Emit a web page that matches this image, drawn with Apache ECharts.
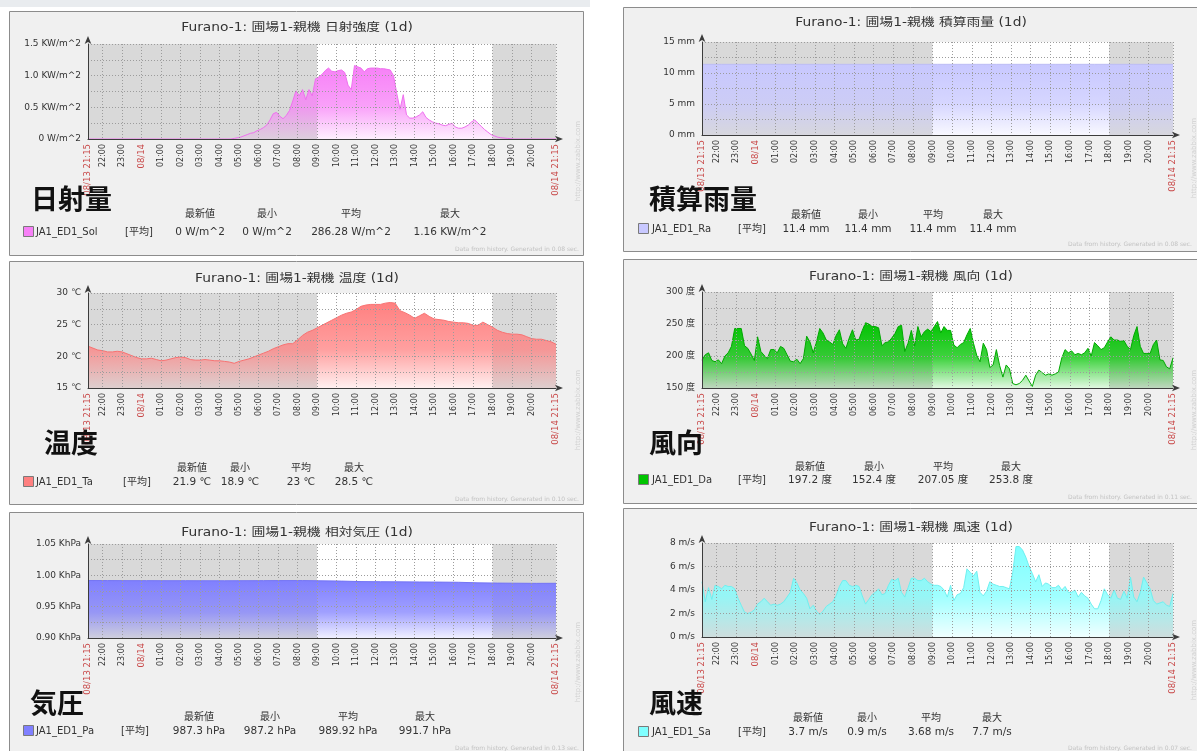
<!DOCTYPE html>
<html>
<head>
<meta charset="utf-8">
<script src="https://cdn.jsdelivr.net/npm/echarts@6/dist/echarts.min.js"></script>
<style>
  html, body { margin: 0; padding: 0; background: #ffffff; }
  #chart { width: 1197px; height: 751px; }
</style>
</head>
<body>
<div id="chart"></div>
<script>
// ---- time axis (hours counted from 08/13 00:00) ----
const T0 = 21.25;               // 08/13 21:15
const T1 = 45.25;               // 08/14 21:15
const hourTicks = [21.25, 22, 23, 24, 25, 26, 27, 28, 29, 30, 31, 32, 33, 34, 35, 36, 37, 38, 39, 40, 41, 42, 43, 44, 45.25];
const hourLabels = ['08/13 21:15', '22:00', '23:00', '08/14', '01:00', '02:00', '03:00', '04:00', '05:00', '06:00', '07:00', '08:00',
  '09:00', '10:00', '11:00', '12:00', '13:00', '14:00', '15:00', '16:00', '17:00', '18:00', '19:00', '20:00', '08/14 21:15'];
const dateLabelIdx = [0, 3, 24];
// [start, end, isWorkPeriod]
const periods = [[21.25, 33, 0], [33, 42, 1], [42, 45.25, 0]];

const statHeaders = ['最新値', '最小', '平均', '最大'];

// ---- 日射強度 (KW/m^2), every 10 min from 21:15 ----
const solar = [
  0,0,0,0,0,0,0,0,0,0, 0,0,0,0,0,0,0,0,0,0, 0,0,0,0,0,0,0,0,0,0, 0,0,0,0,0,0,0,0,0,0, 0,0,0,0,0,
  0.01,0.02,0.03,0.05,0.07,0.09,0.10,0.13,0.15,0.18,0.22,
  0.30,0.40,0.42,0.36,0.32,0.37,0.45,0.60,0.76,0.68,0.78,0.62,0.78,0.68,0.95,
  0.98,1.02,1.08,1.12,1.07,1.06,1.08,1.09,1.05,0.85,0.78,1.16,1.14,1.12,1.06,1.11,1.12,1.12,1.12,1.11,1.11,1.10,1.09,1.00,
  0.72,0.47,0.70,0.38,0.33,0.33,0.35,0.38,0.43,0.34,0.30,0.27,0.25,0.24,0.22,0.21,0.23,0.25,0.19,0.17,0.17,0.19,0.22,0.27,
  0.30,0.25,0.20,0.15,0.11,0.07,0.05,0.03,0.02,0.015,0.01,0.005,
  0,0,0,0,0,0,0,0,0,0,0,0,0,0
];
const solarStats = ['0 W/m^2', '0 W/m^2', '286.28 W/m^2', '1.16 KW/m^2'];

// ---- 温度 (℃), every 15 min from 21:15 ----
const temperature = [
  21.6,21.3,21.0,20.9,20.7,20.7,20.8,20.7,20.4,20.1,19.8,19.6,19.6,19.7,19.5,19.3,19.4,19.6,19.8,19.9,
  19.8,19.5,19.4,19.4,19.5,19.4,19.3,19.3,19.2,19.1,18.9,19.2,19.4,19.6,19.9,20.2,20.5,20.8,21.2,21.5,
  21.8,22.0,22.0,22.6,23.3,23.8,24.1,24.5,24.9,25.3,25.7,26.1,26.5,26.8,27.0,27.4,27.9,28.1,28.2,28.2,
  28.2,28.4,28.5,28.4,27.2,26.9,26.5,26.0,26.4,26.8,26.3,25.9,25.8,25.7,25.5,25.4,25.3,25.3,25.2,24.9,
  24.9,25.4,25.0,24.6,24.1,23.8,23.6,23.5,23.5,23.4,23.1,22.8,22.7,22.7,22.5,22.3,21.9
];
const temperatureStats = ['21.9 ℃', '18.9 ℃', '23 ℃', '28.5 ℃'];

// ---- 相対気圧 (hPa), hourly from 21:15 ----
const pressure = [
  991.7,991.6,991.5,991.5,991.4,991.4,991.3,991.3,991.4,991.5,991.6,991.6,
  991.2,990.8,990.0,989.8,989.6,989.4,989.2,988.9,988.0,987.6,987.4,987.2,987.3
];
const pressureStats = ['987.3 hPa', '987.2 hPa', '989.92 hPa', '991.7 hPa'];

// ---- 積算雨量 (mm), hourly from 21:15 ----
const rain = [
  11.4,11.4,11.4,11.4,11.4,11.4,11.4,11.4,11.4,11.4,11.4,11.4,11.4,
  11.4,11.4,11.4,11.4,11.4,11.4,11.4,11.4,11.4,11.4,11.4,11.4
];
const rainStats = ['11.4 mm', '11.4 mm', '11.4 mm', '11.4 mm'];

// ---- 風向 (度), every 10 min from 21:15 ----
const windDir = [
  193.5,202,205,193,191,194,188,200,205,215, 243,243,243,216,212,203,193,230,207,201,
  196,210,210,205,215,212,202,192,191,195, 188,196,231,222,205,222,243,236,225,222,
  218,232,241,219,212,228,241,225,226,240, 252,250,246,246,244,216,221,222,228,235,
  246,248,207,220,240,216,246,230,238,242, 238,246,253.8,236,246,240,240,217,213,218,
  221,233,243,220,201,191,220,210,182,186, 210,185,167,186,180,157,155,157,162,170,
  161,152.4,170,178,174,170,172,170,172,175, 197,210,205,208,202,204,202,205,212,200,
  221,216,210,213,222,230,225,225,223,224, 215,210,232,246,215,204,204,204,218,225,
  194,193,183,180,197.2
];
const windDirStats = ['197.2 度', '152.4 度', '207.05 度', '253.8 度'];

// ---- 風速 (m/s), every 10 min from 21:15 ----
const windSpeed = [
  4.7,3.0,4.2,3.2,4.4,4.3,4.1,4.4,4.3,4.3, 4.1,3.3,2.7,2.1,2.0,2.1,2.3,2.8,3.0,3.3,
  3.0,2.7,2.8,2.7,2.8,3.0,3.4,3.8,5.0,4.6, 4.0,3.7,3.3,2.4,2.7,2.2,1.9,2.2,2.6,2.8,
  3.0,3.5,4.3,4.8,4.8,4.4,4.3,4.4,4.3,3.5, 2.8,3.2,3.6,3.8,4.1,3.6,3.7,4.4,4.9,4.8,
  5.0,3.8,3.4,4.2,5.0,5.0,4.8,4.8,5.0,4.7, 4.5,4.4,4.4,4.3,4.0,3.4,4.4,3.1,3.6,3.7,
  4.2,5.8,5.5,5.2,5.6,3.8,3.5,3.9,4.7,4.5, 4.4,4.3,4.3,4.2,4.1,5.5,7.7,7.7,7.4,6.8,
  6.0,5.4,4.7,5.3,4.3,4.6,4.5,4.2,4.2,4.4, 4.0,4.3,3.8,3.8,4.0,3.4,3.8,3.5,3.3,2.8,
  2.4,2.4,3.1,4.1,3.6,3.3,4.0,3.3,3.2,3.9, 3.3,5.1,3.4,3.0,3.8,5.1,4.6,4.1,3.1,2.8,
  2.9,3.0,2.7,2.6,3.7
];
const windSpeedStats = ['3.7 m/s', '0.9 m/s', '3.68 m/s', '7.7 m/s'];

// ---- fonts & colours ----
const FONT = "'DejaVu Sans', 'Noto Sans CJK JP', sans-serif";
const CJK = "'Noto Sans CJK JP', sans-serif";
const TEXT = '#333333';
const OFF_BG = '#d9d9d9';
const GRID_LINE = { color: '#9c9c9c', type: [1, 2], width: 1 };

const panels = [
  { item: 'JA1_ED1_Sol', metric: '日射強度', big: '日射量', color: [247, 128, 247], line: '#ee70ee',
    values: solar, stepMin: 10, yMin: 0, yMax: 1.5, yStep: 0.25, yLabels: [0, 0.5, 1, 1.5],
    yFmt: v => v === 0 ? '0 W/m^2' : v.toFixed(1) + ' KW/m^2', stats: solarStats, gen: '0.08',
    box: [9, 11, 574, 244], grid: [88, 44, 468, 95], titleY: 28, bigXY: [31, 199],
    headY: 214, rowY: 232, swatchX: 23, nameX: 36, tagX: 125, cols: [200, 267, 351, 450],
    footXY: [579, 249], urlXY: [578, 161] },
  { item: 'JA1_ED1_Ta', metric: '温度', big: '温度', color: [255, 128, 128], line: '#f87272',
    values: temperature, stepMin: 15, yMin: 15, yMax: 30, yStep: 2.5, yLabels: [15, 20, 25, 30],
    yFmt: v => v + ' ℃', stats: temperatureStats, gen: '0.10',
    box: [9, 261, 574, 243], grid: [88, 293, 468, 95], titleY: 279, bigXY: [44, 443],
    headY: 468, rowY: 482, swatchX: 23, nameX: 36, tagX: 123, cols: [192, 240, 301, 354],
    footXY: [579, 499], urlXY: [578, 410] },
  { item: 'JA1_ED1_Pa', metric: '相対気圧', big: '気圧', color: [128, 128, 255], line: '#7474f4',
    values: pressure, stepMin: 60, yMin: 900, yMax: 1050, yStep: 25, yLabels: [900, 950, 1000, 1050],
    yFmt: v => (v / 1000).toFixed(2) + ' KhPa', stats: pressureStats, gen: '0.13',
    box: [9, 512, 574, 245], grid: [88, 544, 468, 94], titleY: 533, bigXY: [30, 703],
    headY: 717, rowY: 731, swatchX: 23, nameX: 36, tagX: 121, cols: [199, 270, 348, 425],
    footXY: [579, 748], urlXY: [578, 662] },
  { item: 'JA1_ED1_Ra', metric: '積算雨量', big: '積算雨量', color: [200, 200, 255], line: '#bcbcf4',
    values: rain, stepMin: 60, yMin: 0, yMax: 15, yStep: 2.5, yLabels: [0, 5, 10, 15],
    yFmt: v => v + ' mm', stats: rainStats, gen: '0.08',
    box: [623, 7, 580, 244], grid: [702, 42, 471, 93], titleY: 23, bigXY: [649, 199],
    headY: 215, rowY: 229, swatchX: 638, nameX: 652, tagX: 738, cols: [806, 868, 933, 993],
    footXY: [1192, 244], urlXY: [1194, 158] },
  { item: 'JA1_ED1_Da', metric: '風向', big: '風向', color: [0, 196, 0], line: '#00a800',
    values: windDir, stepMin: 10, yMin: 150, yMax: 300, yStep: 25, yLabels: [150, 200, 250, 300],
    yFmt: v => v + ' 度', stats: windDirStats, gen: '0.11',
    box: [623, 259, 580, 244], grid: [702, 292, 471, 96], titleY: 277, bigXY: [649, 443],
    headY: 467, rowY: 480, swatchX: 638, nameX: 652, tagX: 738, cols: [810, 874, 943, 1011],
    footXY: [1192, 497], urlXY: [1194, 410] },
  { item: 'JA1_ED1_Sa', metric: '風速', big: '風速', color: [128, 255, 255], line: '#6ef0f0',
    values: windSpeed, stepMin: 10, yMin: 0, yMax: 8, yStep: 2, yLabels: [0, 2, 4, 6, 8],
    yFmt: v => v + ' m/s', stats: windSpeedStats, gen: '0.07',
    box: [623, 508, 580, 250], grid: [702, 543, 471, 94], titleY: 528, bigXY: [649, 703],
    headY: 718, rowY: 732, swatchX: 638, nameX: 652, tagX: 738, cols: [808, 867, 931, 992],
    footXY: [1192, 748], urlXY: [1194, 660] }
];

function rgba(c, a) { return 'rgba(' + c[0] + ',' + c[1] + ',' + c[2] + ',' + a + ')'; }

function xLabel(v) {
  const i = hourTicks.findIndex(t => Math.abs(t - v) < 1e-6);
  if (i < 0) return '';
  return (dateLabelIdx.indexOf(i) >= 0 ? '{d|' : '{h|') + hourLabels[i] + '}';
}

const grid = [], xAxis = [], yAxis = [], series = [], graphic = [];

// light strip above the left column
graphic.push({ type: 'rect', z: -2, shape: { x: 0, y: 0, width: 590, height: 7 }, style: { fill: '#e9ecef' } });

panels.forEach((p, k) => {
  grid.push({ left: p.grid[0], top: p.grid[1], width: p.grid[2], height: p.grid[3], containLabel: false, outerBoundsMode: 'none' });

  xAxis.push({
    gridIndex: k, type: 'value', min: T0, max: T1, z: 5,
    axisLine: { show: true, onZero: false, lineStyle: { color: '#3c3c3c', width: 1 },
      symbol: ['none', 'arrow'], symbolSize: [5, 8], symbolOffset: [0, 7] },
    axisTick: { show: false, customValues: hourTicks },
    axisLabel: { customValues: hourTicks, rotate: 90, margin: 5, formatter: xLabel, fontFamily: FONT,
      rich: { h: { fontSize: 8, color: TEXT, fontFamily: FONT }, d: { fontSize: 8.5, color: '#c84848', fontFamily: FONT } } },
    splitLine: { show: true, lineStyle: GRID_LINE }
  });

  yAxis.push({
    gridIndex: k, type: 'value', min: p.yMin, max: p.yMax, interval: p.yStep, z: 5,
    axisLine: { show: true, onZero: false, lineStyle: { color: '#3c3c3c', width: 1 },
      symbol: ['none', 'arrow'], symbolSize: [5, 8], symbolOffset: [0, 8] },
    axisTick: { show: false },
    axisLabel: { customValues: p.yLabels, formatter: p.yFmt, fontFamily: FONT, fontSize: 9, color: TEXT, margin: 7 },
    splitLine: { show: true, lineStyle: GRID_LINE }
  });

  // work / non-work background bands
  series.push({
    type: 'custom', xAxisIndex: k, yAxisIndex: k, z: 1, silent: true, animation: false,
    data: periods, encode: { x: [0, 1] },
    renderItem: (params, api) => {
      const cs = params.coordSys;
      const x0 = api.coord([api.value(0), p.yMin])[0];
      const x1 = api.coord([api.value(1), p.yMin])[0];
      return { type: 'rect', shape: { x: x0, y: cs.y, width: x1 - x0, height: cs.height },
        style: { fill: api.value(2) ? '#ffffff' : OFF_BG } };
    }
  });

  series.push({
    type: 'line', name: p.item, xAxisIndex: k, yAxisIndex: k, z: 2,
    data: p.values.map((v, i) => [T0 + i * p.stepMin / 60, v]),
    showSymbol: false, symbol: 'none', animation: false,
    lineStyle: { color: p.line, width: 1 },
    areaStyle: { origin: 'start', opacity: 1,
      color: new echarts.graphic.LinearGradient(0, 0, 0, 1, [
        { offset: 0, color: rgba(p.color, 1) },
        { offset: 0.55, color: rgba(p.color, 0.75) },
        { offset: 1, color: rgba(p.color, 0.12) }
      ]) }
  });

  const [bx, by, bw, bh] = p.box;
  graphic.push({ type: 'rect', z: -1, shape: { x: bx + 0.5, y: by + 0.5, width: bw, height: bh },
    style: { fill: '#f0f0f0', stroke: '#8c8c8c', lineWidth: 1 } });

  // chart title
  graphic.push({ type: 'text', z: 10, x: bx + 288, y: p.titleY, scaleX: 1.2,
    style: { text: 'Furano-1: 圃場1-親機 ' + p.metric + ' (1d)', fontFamily: FONT, fontSize: 11.5,
      fill: TEXT, align: 'center', verticalAlign: 'middle' } });

  // large caption
  graphic.push({ type: 'text', z: 12, x: p.bigXY[0], y: p.bigXY[1],
    style: { text: p.big, fontFamily: CJK, fontSize: 27, fontWeight: 'bold', fill: '#111111',
      align: 'left', verticalAlign: 'middle' } });

  // legend row
  graphic.push({ type: 'rect', z: 10, shape: { x: p.swatchX + 0.5, y: p.rowY - 5.5, width: 10, height: 10 },
    style: { fill: rgba(p.color, 1), stroke: '#7a7a7a', lineWidth: 1 } });
  graphic.push({ type: 'text', z: 10, x: p.nameX, y: p.rowY,
    style: { text: p.item, fontFamily: FONT, fontSize: 10, fill: TEXT, align: 'left', verticalAlign: 'middle' } });
  graphic.push({ type: 'text', z: 10, x: p.tagX, y: p.rowY,
    style: { text: '[平均]', fontFamily: FONT, fontSize: 10, fill: TEXT, align: 'left', verticalAlign: 'middle' } });
  p.cols.forEach((cx, j) => {
    graphic.push({ type: 'text', z: 10, x: cx, y: p.headY,
      style: { text: statHeaders[j], fontFamily: FONT, fontSize: 10, fill: TEXT, align: 'center', verticalAlign: 'middle' } });
    graphic.push({ type: 'text', z: 10, x: cx, y: p.rowY,
      style: { text: p.stats[j], fontFamily: FONT, fontSize: 10.5, fill: TEXT, align: 'center', verticalAlign: 'middle' } });
  });

  // footer and vertical url
  graphic.push({ type: 'text', z: 10, x: p.footXY[0], y: p.footXY[1],
    style: { text: 'Data from history. Generated in ' + p.gen + ' sec.', fontFamily: FONT, fontSize: 6,
      fill: '#c2c2c2', align: 'right', verticalAlign: 'middle' } });
  graphic.push({ type: 'text', z: 10, x: p.urlXY[0], y: p.urlXY[1], rotation: Math.PI / 2,
    style: { text: 'http://www.zabbix.com', fontFamily: FONT, fontSize: 7, fill: '#d0d0d0',
      align: 'center', verticalAlign: 'middle' } });
});

const chart = echarts.init(document.getElementById('chart'), null, { renderer: 'canvas', width: 1197, height: 751 });
chart.setOption({
  animation: false,
  backgroundColor: '#ffffff',
  textStyle: { fontFamily: FONT },
  grid, xAxis, yAxis, series, graphic
});
</script>
</body>
</html>
